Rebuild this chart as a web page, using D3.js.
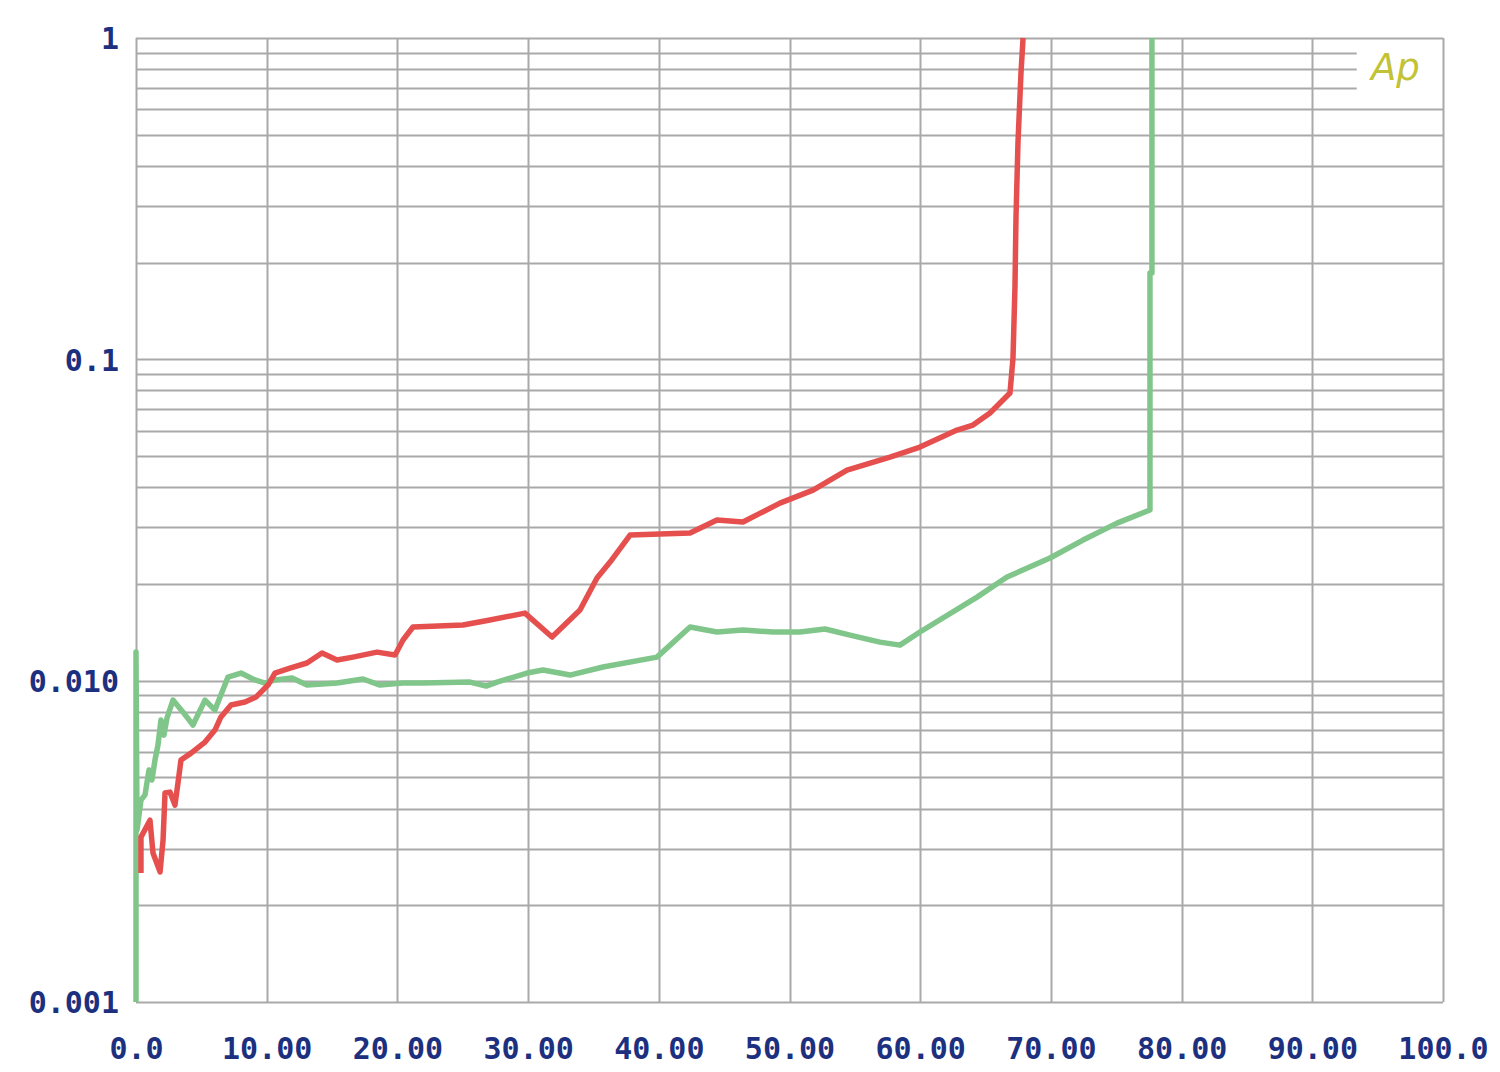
<!DOCTYPE html>
<html>
<head>
<meta charset="utf-8">
<script src="https://cdn.jsdelivr.net/npm/d3@7"></script>
<style>
  html, body { margin: 0; padding: 0; background: #ffffff; }
  svg { display: block; }
</style>
</head>
<body>
<svg id="chart" width="1500" height="1072"></svg>
<script>
// ---- Data ----
const redX = [0.38, 0.38, 1.07, 1.30, 1.84, 2.07, 2.22, 2.60, 2.98, 3.21, 3.44, 4.21, 5.28, 6.04, 6.50, 7.27, 8.34, 9.18, 10.10, 10.63,
  11.78, 13.08, 14.23, 15.38, 16.60, 18.44, 19.82, 20.43, 21.19, 25.02, 27.08, 29.76, 31.83, 33.97, 35.27, 36.27, 37.80, 40.09,
  42.39, 44.45, 46.44, 49.27, 51.80, 54.40, 57.69, 59.98, 62.82, 64.04, 65.34, 66.87, 67.10, 67.25, 67.33, 67.48, 67.71, 67.87];
const redY = [0.00252, 0.00326, 0.00368, 0.00291, 0.00254, 0.00319, 0.00447, 0.00450, 0.00410, 0.00480, 0.00566, 0.00595, 0.00644,
  0.00702, 0.00771, 0.00840, 0.00858, 0.00889, 0.00969, 0.01056, 0.01094, 0.01135, 0.01219, 0.01159, 0.01184, 0.01227, 0.01202,
  0.01338, 0.01469, 0.01490, 0.01544, 0.01623, 0.01367, 0.01659, 0.02086, 0.02339, 0.02838, 0.02858, 0.02879, 0.03162, 0.03116,
  0.03570, 0.03918, 0.04519, 0.04966, 0.05333, 0.06026, 0.06246, 0.06808, 0.07853, 0.1009, 0.1679, 0.2773, 0.4711, 0.778, 1.0];

const greenX = [0, 0, 0.08, 0.38, 0.69, 0.99, 1.22, 1.45, 1.68, 1.91, 2.14, 2.37, 2.83, 3.60, 4.36, 5.28, 6.04, 7.04, 8.03, 9.10,
  9.87, 10.63, 11.94, 13.08, 15.38, 17.37, 18.67, 20.43, 21.96, 25.56, 26.79, 27.62, 29.92, 31.14, 33.21, 35.73, 39.86, 42.39,
  44.45, 46.44, 48.74, 50.80, 52.72, 54.63, 56.92, 58.45, 59.98, 64.35, 66.64, 69.93, 72.46, 75.06, 77.58, 77.58, 77.73, 77.73];
const greenY = [0.001, 0.01227, 0.00343, 0.00425, 0.00441, 0.00527, 0.00491, 0.00566, 0.00630, 0.00754, 0.00677, 0.00765, 0.00870,
  0.00798, 0.00728, 0.00870, 0.00810, 0.01026, 0.01056, 0.01005, 0.00983, 0.01005, 0.01019, 0.00969, 0.00983, 0.01012, 0.00969,
  0.00983, 0.00983, 0.00990, 0.00962, 0.00990, 0.01056, 0.01079, 0.01041, 0.01103, 0.01184, 0.01469, 0.01417, 0.01437, 0.01417,
  0.01417, 0.01448, 0.01386, 0.01318, 0.01290, 0.01417, 0.01820, 0.02101, 0.02408, 0.02739, 0.03093, 0.03396, 0.1857, 0.1857, 1.0];

const xTickValues = [0, 10, 20, 30, 40, 50, 60, 70, 80, 90, 100];
const xTickLabels = ["0.0", "10.00", "20.00", "30.00", "40.00", "50.00", "60.00", "70.00", "80.00", "90.00", "100.0"];
const yTickValues = [0.001, 0.01, 0.1, 1];
const yTickLabels = ["0.001", "0.010", "0.1", "1"];
const logoText = "Ap";

// ---- Layout ----
const plotLeft = 136, plotRight = 1443, plotTop = 38, plotBottom = 1002;
const svg = d3.select("#chart");
const x = d3.scaleLinear().domain([0, 100]).range([plotLeft, plotRight]);
const y = d3.scaleLog().domain([0.001, 1]).range([plotBottom, plotTop]);

const gridColor = "#a9a9a9";
const labelColor = "#1d3080";

// minor/major horizontal grid values
const hGrid = [];
[0.001, 0.01, 0.1].forEach(d => { for (let k = 1; k <= 9; k++) hGrid.push(+(d * k).toPrecision(3)); });
hGrid.push(1);

const grid = svg.append("g");
grid.selectAll("line.h").data(hGrid).join("line")
  .attr("x1", plotLeft)
  .attr("x2", d => (d > 0.65 && d < 0.95) ? x(93.4) : plotRight)
  .attr("y1", d => Math.round(y(d)) + 0.5)
  .attr("y2", d => Math.round(y(d)) + 0.5)
  .attr("stroke", gridColor).attr("stroke-width", 2);

grid.selectAll("line.v").data(xTickValues).join("line")
  .attr("x1", d => Math.round(x(d)) + 0.5)
  .attr("x2", d => Math.round(x(d)) + 0.5)
  .attr("y1", plotTop).attr("y2", plotBottom)
  .attr("stroke", gridColor).attr("stroke-width", 2);

// ---- Axes (labels only) ----
const xAxis = d3.axisBottom(x).tickValues(xTickValues)
  .tickFormat((d, i) => xTickLabels[i]).tickSize(0);
const gx = svg.append("g").attr("transform", `translate(0,${plotBottom})`).call(xAxis);
gx.select(".domain").remove();
gx.selectAll("text")
  .attr("y", 57).attr("dy", 0)
  .attr("fill", labelColor)
  .style("font-family", "'DejaVu Sans Mono', monospace")
  .style("font-weight", "bold")
  .style("font-size", "30px");

const yAxis = d3.axisLeft(y).tickValues(yTickValues)
  .tickFormat((d, i) => yTickLabels[i]).tickSize(0);
const gy = svg.append("g").attr("transform", `translate(${plotLeft},0)`).call(yAxis);
gy.select(".domain").remove();
gy.selectAll("text")
  .attr("x", -17).attr("dy", "0.36em")
  .attr("fill", labelColor)
  .style("font-family", "'DejaVu Sans Mono', monospace")
  .style("font-weight", "bold")
  .style("font-size", "30px");

// ---- Lines ----
const line = d3.line().x(d => x(d[0])).y(d => y(d[1]));
const redData = redX.map((v, i) => [v, redY[i]]);
const greenData = greenX.map((v, i) => [v, greenY[i]]);

svg.append("path").datum(greenData)
  .attr("d", line).attr("fill", "none")
  .attr("stroke", "#80c68a").attr("stroke-width", 5.5)
  .attr("stroke-linejoin", "round");

svg.append("path").datum(redData)
  .attr("d", line).attr("fill", "none")
  .attr("stroke", "#e5504f").attr("stroke-width", 5.5)
  .attr("stroke-linejoin", "round");

// ---- Logo ----
svg.append("text")
  .attr("x", 1371).attr("y", 80)
  .attr("fill", "#c2c236")
  .style("font-family", "'DejaVu Sans', sans-serif")
  .style("font-style", "italic")
  .style("font-weight", "300")
  .style("font-size", "37px")
  .text(logoText);
</script>
</body>
</html>
